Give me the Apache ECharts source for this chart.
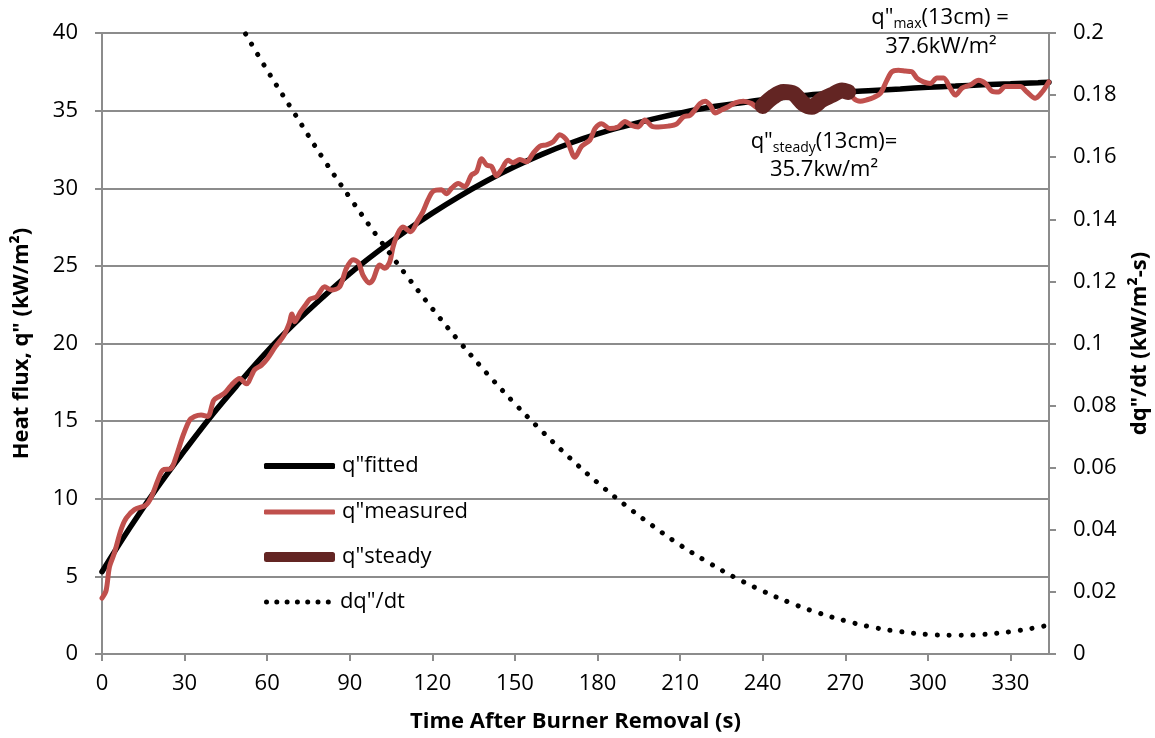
<!DOCTYPE html>
<html>
<head>
<meta charset="utf-8">
<script src="https://cdn.jsdelivr.net/npm/echarts@6/dist/echarts.min.js"></script>
<style>
  html, body { margin: 0; padding: 0; background: #fff; }
  #chart { width: 1155px; height: 738px; }
</style>
</head>
<body>
<div id="chart"></div>
<script>
// Tick positions on the time axis (s)
const timeTicks = [0, 30, 60, 90, 120, 150, 180, 210, 240, 270, 300, 330];

// Fitted heat flux curve q"fitted (kW/m2)
const fittedTime = [0, 10, 20, 30, 40, 50, 60, 70, 80, 90, 100, 110, 120, 130, 140, 150, 160, 170,
  180, 190, 200, 210, 220, 230, 240, 250, 260, 270, 280, 290, 300, 310, 320, 330, 340, 344];
const fittedFlux = [5.3, 8.1, 10.7, 13.1, 15.4, 17.5, 19.5, 21.3, 22.95, 24.5, 25.9, 27.2, 28.4, 29.5,
  30.5, 31.4, 32.2, 32.9, 33.5, 34.0, 34.45, 34.85, 35.2, 35.45, 35.7, 35.9, 36.05, 36.2, 36.3,
  36.4, 36.5, 36.58, 36.66, 36.73, 36.8, 36.83];

// Measured heat flux q"measured (kW/m2)
const measuredTime = [0, 1.5, 2.7, 4.5, 6.9, 8.8, 11.8, 16, 17.9, 20.3, 22.1, 25.1, 26.9, 29.3, 31.8,
  33.6, 36, 38.4, 40.6, 42.7, 44.5, 46.9, 50, 52.4, 55.4, 57.9, 60, 63, 66, 68, 69, 70, 72, 74, 75.5,
  77.9, 80.9, 83.3, 86.3, 88.8, 91.2, 93.2, 94.8, 97.2, 98.4, 100.9, 102.7, 104.5, 105.7, 107.5, 109.3,
  112.1, 114.8, 116.6, 118.4, 120.3, 123.3, 125.1, 127, 129.4, 131.8, 134.2, 136, 137.9, 139.7, 141.5,
  143.3, 145.1, 147.5, 149.3, 151.8, 154.2, 156.6, 159, 161.5, 163.9, 166.3, 168.8, 171.8, 174.2, 177.2,
  179.1, 181.5, 184.5, 187.5, 190, 192.4, 194.8, 197.2, 199.7, 202.1, 205.7, 208.8, 211.2, 213.6, 215.4,
  217.2, 219.1, 220.9, 222.7, 225.1, 227.5, 230, 233, 236, 237.9, 239.7, 243.9, 247.5, 251.2, 254.8,
  257.9, 261.5, 265.1, 268.8, 271.8, 273, 275.4, 277.9, 280.3, 282.7, 285.1, 286.9, 289.3, 291.8, 294.2,
  296, 298.4, 300.9, 303.3, 305.7, 308.1, 310, 312.4, 315.4, 318.4, 320.9, 323.3, 325.7, 328.1, 331.2,
  333.6, 336, 339, 341.5, 343.9];
const measuredFlux = [3.6, 4.1, 5.6, 6.5, 8.0, 8.75, 9.3, 9.6, 10.1, 11.2, 11.85, 11.95, 12.7, 14.0, 15.05,
  15.3, 15.4, 15.3, 16.35, 16.6, 16.8, 17.3, 17.75, 17.4, 18.3, 18.6, 19.0, 19.8, 20.5, 21.3, 21.9, 21.4,
  22.0, 22.5, 22.85, 23.0, 23.65, 23.45, 23.65, 24.85, 25.4, 25.2, 24.4, 23.9, 24.1, 25.05, 24.85, 25.25,
  26.2, 27.1, 27.5, 27.2, 27.95, 28.5, 29.25, 29.8, 29.9, 29.65, 30.0, 30.3, 30.1, 30.85, 31.05, 31.9,
  31.5, 31.4, 30.8, 31.2, 31.8, 31.65, 31.85, 31.7, 32.25, 32.7, 32.8, 33.0, 33.45, 33.1, 32.0, 32.7,
  33.1, 33.85, 34.15, 33.85, 33.95, 34.3, 34.05, 33.95, 34.4, 34.0, 33.95, 34.0, 34.15, 34.6, 34.7, 35.05,
  35.45, 35.6, 35.35, 34.85, 35.05, 35.25, 35.5, 35.6, 35.45, 35.2, 35.3, 35.9, 36.2, 36.1, 35.45, 35.25,
  35.7, 36.0, 36.3, 36.2, 35.8, 35.6, 35.7, 35.85, 36.1, 36.95, 37.5, 37.6, 37.55, 37.5, 37.1, 36.85,
  36.75, 37.1, 37.1, 36.45, 36.0, 36.45, 36.65, 36.95, 36.75, 36.25, 36.2, 36.55, 36.55, 36.55, 36.2,
  35.8, 36.2, 36.85];

// Steady-state window q"steady (kW/m2)
const steadyTime = [240, 243.9, 247.5, 251.2, 254.8, 257.9, 261.5, 265.1, 268.8, 271];
const steadyFlux = [35.3, 35.9, 36.2, 36.1, 35.45, 35.25, 35.7, 36.0, 36.3, 36.2];

// Rate of change of the fitted flux dq"/dt (kW/m2-s)
const rateTime = [50, 60, 70, 80, 90, 100, 110, 120, 130, 140, 150, 160, 170, 180, 190, 200, 210, 220,
  230, 240, 250, 260, 270, 280, 290, 300, 310, 320, 330, 340, 344];
const rateValue = [0.203, 0.188, 0.174, 0.160, 0.147, 0.1345, 0.1226, 0.1112, 0.1004, 0.0902, 0.0806,
  0.0716, 0.0631, 0.0552, 0.048, 0.0413, 0.0351, 0.0296, 0.0246, 0.0203, 0.0165, 0.0133, 0.0107,
  0.0086, 0.0072, 0.0063, 0.006, 0.0063, 0.0072, 0.0086, 0.0094];

const FONT = '"Open Sans", Lato, sans-serif';
const GRID_GREY = '#8c8c8c';
const pairs = (xs, ys) => xs.map((x, i) => [x, ys[i]]);

// A row of seven round dots for the dq"/dt legend key
const dotRow = 'path://' + [0, 1, 2, 3, 4, 5, 6].map(i => {
  const cx = 2.5 + i * 10.3;
  return 'M' + (cx - 2.5) + ',2.5A2.5,2.5,0,1,1,' + (cx + 2.5) + ',2.5A2.5,2.5,0,1,1,' + (cx - 2.5) + ',2.5Z';
}).join('');

const chart = echarts.init(document.getElementById('chart'), null, { renderer: 'canvas' });

const axisLineStyle = { show: true, lineStyle: { color: GRID_GREY, width: 2 } };
const axisTickStyle = { show: true, inside: false, length: 7, lineStyle: { color: GRID_GREY, width: 2 } };
const tickLabelStyle = { color: '#000', fontSize: 22, fontFamily: FONT };
const axisNameStyle = { color: '#000', fontSize: 22, fontWeight: 'bold', fontFamily: FONT };

function legendRow(name, icon, height, centerY) {
  return {
    orient: 'vertical',
    left: 264,
    top: centerY - 10,
    padding: 0,
    itemWidth: 71,
    itemHeight: height,
    selectedMode: false,
    textStyle: { color: '#000', fontSize: 22, fontFamily: FONT, lineHeight: 20, padding: [0, 0, 0, 2] },
    data: [{ name: name, icon: icon }]
  };
}

const subRich = {
  a: { fontSize: 22, fontFamily: FONT, fill: '#000', lineHeight: 26 },
  s: { fontSize: 14, fontFamily: FONT, fill: '#000', lineHeight: 8, verticalAlign: 'bottom' }
};

const option = {
  animation: false,
  backgroundColor: '#fff',
  textStyle: { fontFamily: FONT },
  grid: { left: 102, right: 106, top: 33, bottom: 84, containLabel: false, outerBoundsMode: 'none' },
  xAxis: {
    type: 'value',
    min: 0,
    max: 344,
    interval: 30,
    name: 'Time After Burner Removal (s)',
    nameLocation: 'middle',
    nameGap: 57,
    nameTextStyle: axisNameStyle,
    axisLine: axisLineStyle,
    axisTick: Object.assign({}, axisTickStyle, { customValues: timeTicks }),
    axisLabel: Object.assign({}, tickLabelStyle, { margin: 19, customValues: timeTicks }),
    splitLine: { show: false }
  },
  yAxis: [
    {
      type: 'value',
      position: 'left',
      min: 0,
      max: 40,
      interval: 5,
      name: 'Heat flux, q" (kW/m²)',
      nameLocation: 'middle',
      nameRotate: 90,
      nameGap: 69,
      nameTextStyle: axisNameStyle,
      axisLine: axisLineStyle,
      axisTick: axisTickStyle,
      axisLabel: Object.assign({}, tickLabelStyle, { margin: 24 }),
      splitLine: { show: true, lineStyle: { color: GRID_GREY, width: 2 } }
    },
    {
      type: 'value',
      position: 'right',
      min: 0,
      max: 0.2,
      interval: 0.02,
      name: 'dq"/dt (kW/m²-s)',
      nameLocation: 'middle',
      nameRotate: 90,
      nameGap: 80,
      nameTextStyle: axisNameStyle,
      axisLine: axisLineStyle,
      axisTick: axisTickStyle,
      axisLabel: Object.assign({}, tickLabelStyle, { margin: 24 }),
      splitLine: { show: false }
    }
  ],
  legend: [
    legendRow('q"fitted', 'roundRect', 6, 465),
    legendRow('q"measured', 'roundRect', 5, 511),
    legendRow('q"steady', 'roundRect', 10, 556),
    legendRow('dq"/dt', dotRow, 5, 601)
  ],
  series: [
    {
      name: 'q"fitted',
      type: 'line',
      yAxisIndex: 0,
      data: pairs(fittedTime, fittedFlux),
      symbol: 'none',
      smooth: 0.4,
      lineStyle: { color: '#000', width: 5.5, cap: 'round' },
      itemStyle: { color: '#000' },
      z: 2
    },
    {
      name: 'q"measured',
      type: 'line',
      yAxisIndex: 0,
      data: pairs(measuredTime, measuredFlux),
      symbol: 'none',
      smooth: 0.3,
      lineStyle: { color: '#C0504D', width: 5, cap: 'round', join: 'round' },
      itemStyle: { color: '#C0504D' },
      z: 3
    },
    {
      name: 'q"steady',
      type: 'line',
      yAxisIndex: 0,
      data: pairs(steadyTime, steadyFlux),
      symbol: 'none',
      smooth: 0.3,
      lineStyle: { color: '#632523', width: 16, cap: 'round', join: 'round' },
      itemStyle: { color: '#632523' },
      z: 4
    },
    {
      name: 'dq"/dt',
      type: 'line',
      yAxisIndex: 1,
      data: pairs(rateTime, rateValue),
      symbol: 'none',
      smooth: 0.4,
      lineStyle: { color: '#000', width: 5, type: [0.1, 11.8], cap: 'round' },
      itemStyle: { color: '#000' },
      z: 5
    }
  ],
  graphic: [
    {
      type: 'text',
      style: { x: 940, y: 18, align: 'center', verticalAlign: 'middle',
        text: '{a|q"}{s|max}{a|(13cm) =}', rich: subRich }
    },
    {
      type: 'text',
      style: { x: 941, y: 47, align: 'center', verticalAlign: 'middle',
        text: '37.6kW/m²', fontSize: 22, fontFamily: FONT, fill: '#000' }
    },
    {
      type: 'text',
      style: { x: 824, y: 142, align: 'center', verticalAlign: 'middle',
        text: '{a|q"}{s|steady}{a|(13cm)=}', rich: subRich }
    },
    {
      type: 'text',
      style: { x: 824, y: 170, align: 'center', verticalAlign: 'middle',
        text: '35.7kw/m²', fontSize: 22, fontFamily: FONT, fill: '#000' }
    }
  ]
};

chart.setOption(option);
</script>
</body>
</html>
